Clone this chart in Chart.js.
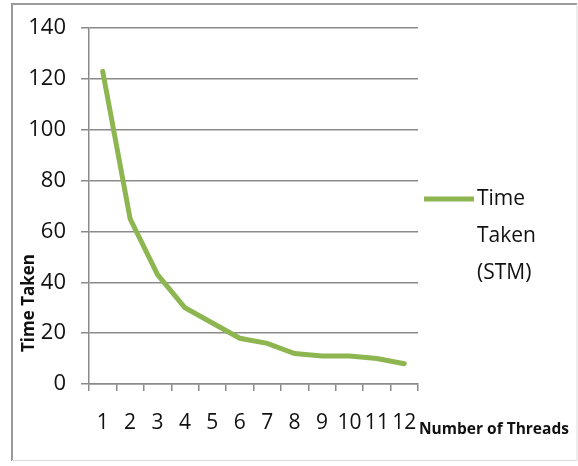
<!DOCTYPE html>
<html>
<head>
<meta charset="utf-8">
<script src="https://cdn.jsdelivr.net/npm/chart.js@4"></script>
<style>
  body { margin: 0; background: #fff; }
</style>
</head>
<body>
<canvas id="myChart" width="578" height="466"></canvas>
<script>
// data
const threads = ['1', '2', '3', '4', '5', '6', '7', '8', '9', '10', '11', '12'];
const timeTaken = [123, 65, 43, 30, 24, 18, 16, 12, 11, 11, 10, 8];
const yTicks = [0, 20, 40, 60, 80, 100, 120, 140];
const seriesName = ['Time', 'Taken', '(STM)'];
const xTitle = 'Number of Threads';
const yTitle = 'Time Taken';

const green = '#8db651';
const gridGray = '#8a8a8a';
const font = "'Open Sans', 'DejaVu Sans', sans-serif";

// frame, axis titles and the wrapped legend are drawn by hand
let extras = {
  id: 'extras',
  beforeDraw: chart => {
    let c = chart.ctx;
    c.save();
    c.fillStyle = '#fff';
    c.fillRect(0, 0, chart.width, chart.height);
    c.strokeStyle = '#9a9a9a';
    c.lineWidth = 2;
    c.beginPath();
    c.moveTo(12, 461);
    c.lineTo(12, 4);
    c.lineTo(577, 4);
    c.stroke();
    c.strokeStyle = '#dadada';
    c.lineWidth = 1;
    c.beginPath();
    c.moveTo(577, 4);
    c.lineTo(577, 460.5);
    c.lineTo(12, 460.5);
    c.stroke();
    c.restore();
  },
  afterDraw: chart => {
    let c = chart.ctx;
    let area = chart.chartArea;
    c.save();
    c.fillStyle = '#111';
    // x title, right of the tick labels
    c.font = 'bold 15.5px ' + font;
    c.textBaseline = 'middle';
    c.textAlign = 'left';
    c.fillText(xTitle, area.right + 1, 430);
    // y title, rotated
    c.translate(29, 303);
    c.rotate(-Math.PI / 2);
    c.font = 'bold 17px ' + font;
    c.textAlign = 'center';
    c.fillText(yTitle, 0, 0);
    c.restore();

    // legend
    c.save();
    c.strokeStyle = green;
    c.lineWidth = 5;
    c.beginPath();
    c.moveTo(424, 199);
    c.lineTo(474, 199);
    c.stroke();
    c.fillStyle = '#111';
    c.font = '21px ' + font;
    c.textBaseline = 'middle';
    c.textAlign = 'left';
    seriesName.forEach((t, i) => {
      c.fillText(t, 477, 199 + i * 37);
    });
    c.restore();
  }
};

let ctx = document.getElementById('myChart').getContext('2d');
let chart = new Chart(ctx, {
  type: 'line',
  data: {
    labels: threads,
    datasets: [
      {
        label: seriesName.join(' '),
        data: timeTaken,
        borderColor: green,
        backgroundColor: green,
        borderWidth: 5,
        pointRadius: 0,
        tension: 0,
        borderCapStyle: 'round'
      }
    ]
  },
  options: {
    responsive: false,
    animation: false,
    layout: {
      padding: { left: 0, top: 21, right: 160, bottom: 0 }
    },
    plugins: {
      legend: { display: false },
      tooltip: { enabled: false }
    },
    scales: {
      x: {
        offset: true,
        afterFit: scale => {
          scale.height = 82;
        },
        grid: {
          offset: true,
          drawOnChartArea: false,
          drawTicks: true,
          tickLength: 7,
          color: gridGray,
          lineWidth: 1.5
        },
        border: { display: true, color: gridGray, width: 1.5 },
        ticks: {
          autoSkip: false,
          maxRotation: 0,
          padding: 19,
          color: '#111',
          font: { family: font, size: 21 }
        }
      },
      y: {
        min: 0,
        max: 140,
        afterFit: scale => {
          scale.width = 89;
        },
        afterBuildTicks: scale => {
          scale.ticks = yTicks.map(v => ({ value: v }));
        },
        grid: {
          color: gridGray,
          lineWidth: 1.5,
          drawTicks: true,
          tickLength: 8
        },
        border: { display: true, color: gridGray, width: 1.5 },
        ticks: {
          padding: 15,
          color: '#111',
          font: { family: font, size: 22 }
        }
      }
    }
  },
  plugins: [extras]
});
</script>
</body>
</html>
